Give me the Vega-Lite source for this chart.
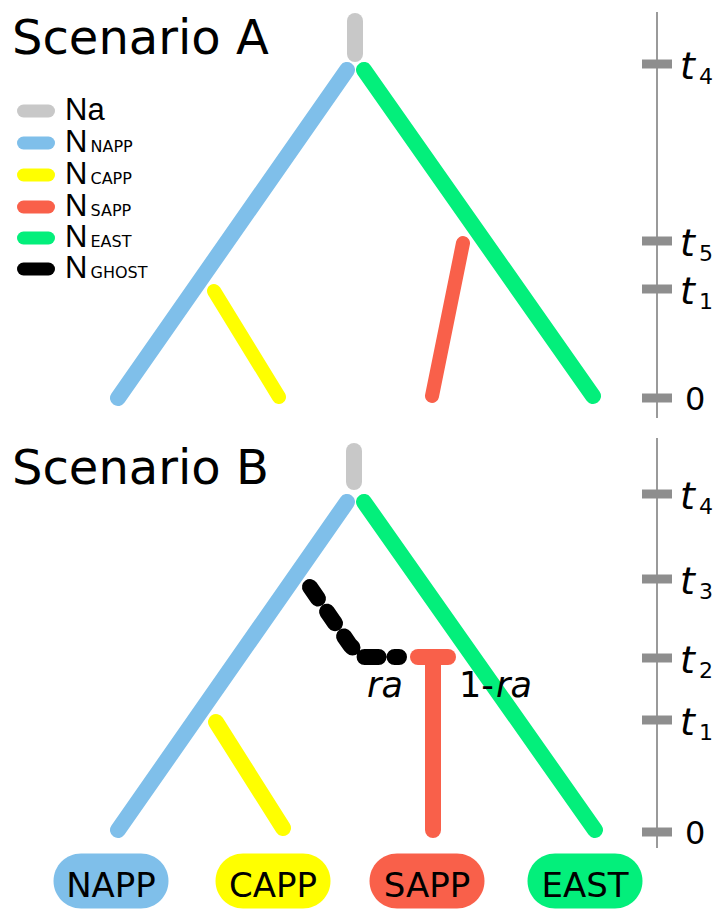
{
  "$schema": "https://vega.github.io/schema/vega-lite/v6.json",
  "width": 719,
  "height": 911,
  "padding": 0,
  "autosize": {"type": "none"},
  "background": "white",
  "config": {"view": {"stroke": null}},
  "datasets": {
    "branches": [
      {"sc": "A", "lin": "Na", "seg": "A-Na", "o": 0, "x": 355, "y": 21},
      {"sc": "A", "lin": "Na", "seg": "A-Na", "o": 1, "x": 355, "y": 54},
      {"sc": "A", "lin": "NAPP", "seg": "A-NAPP", "o": 0, "x": 347, "y": 70},
      {"sc": "A", "lin": "NAPP", "seg": "A-NAPP", "o": 1, "x": 118, "y": 398},
      {"sc": "A", "lin": "EAST", "seg": "A-EAST", "o": 0, "x": 364, "y": 70},
      {"sc": "A", "lin": "EAST", "seg": "A-EAST", "o": 1, "x": 593, "y": 396},
      {"sc": "A", "lin": "CAPP", "seg": "A-CAPP", "o": 0, "x": 214, "y": 291},
      {"sc": "A", "lin": "CAPP", "seg": "A-CAPP", "o": 1, "x": 279, "y": 397},
      {"sc": "A", "lin": "SAPP", "seg": "A-SAPP", "o": 0, "x": 463, "y": 243},
      {"sc": "A", "lin": "SAPP", "seg": "A-SAPP", "o": 1, "x": 432, "y": 396},
      {"sc": "B", "lin": "Na", "seg": "B-Na", "o": 0, "x": 354, "y": 451},
      {"sc": "B", "lin": "Na", "seg": "B-Na", "o": 1, "x": 354, "y": 482},
      {"sc": "B", "lin": "NAPP", "seg": "B-NAPP", "o": 0, "x": 347, "y": 502},
      {"sc": "B", "lin": "NAPP", "seg": "B-NAPP", "o": 1, "x": 118, "y": 830},
      {"sc": "B", "lin": "EAST", "seg": "B-EAST", "o": 0, "x": 364, "y": 502},
      {"sc": "B", "lin": "EAST", "seg": "B-EAST", "o": 1, "x": 595, "y": 830},
      {"sc": "B", "lin": "CAPP", "seg": "B-CAPP", "o": 0, "x": 216, "y": 722},
      {"sc": "B", "lin": "CAPP", "seg": "B-CAPP", "o": 1, "x": 283, "y": 828},
      {"sc": "B", "lin": "SAPP", "seg": "B-SAPP-h", "o": 0, "x": 418, "y": 657},
      {"sc": "B", "lin": "SAPP", "seg": "B-SAPP-h", "o": 1, "x": 448, "y": 657},
      {"sc": "B", "lin": "SAPP", "seg": "B-SAPP-v", "o": 0, "x": 433, "y": 657},
      {"sc": "B", "lin": "SAPP", "seg": "B-SAPP-v", "o": 1, "x": 433, "y": 830},
      {"sc": "B", "lin": "GHOST", "seg": "B-GHOST", "o": 0, "x": 310, "y": 587},
      {"sc": "B", "lin": "GHOST", "seg": "B-GHOST", "o": 1, "x": 350, "y": 645},
      {"sc": "B", "lin": "GHOST", "seg": "B-GHOST", "o": 2, "x": 362, "y": 657},
      {"sc": "B", "lin": "GHOST", "seg": "B-GHOST", "o": 3, "x": 399, "y": 657}
    ],
    "axes": [
      {"sc": "A", "top": 12, "bottom": 418},
      {"sc": "B", "top": 438, "bottom": 848}
    ],
    "ticks": [
      {"sc": "A", "y": 64, "lab": "t", "sub": "4"},
      {"sc": "A", "y": 241, "lab": "t", "sub": "5"},
      {"sc": "A", "y": 289, "lab": "t", "sub": "1"},
      {"sc": "A", "y": 398, "lab": "0", "sub": ""},
      {"sc": "B", "y": 494, "lab": "t", "sub": "4"},
      {"sc": "B", "y": 579, "lab": "t", "sub": "3"},
      {"sc": "B", "y": 658, "lab": "t", "sub": "2"},
      {"sc": "B", "y": 720, "lab": "t", "sub": "1"},
      {"sc": "B", "y": 832, "lab": "0", "sub": ""}
    ],
    "legend": [
      {"lin": "Na", "main": "Na", "sub": "", "y": 111},
      {"lin": "NAPP", "main": "N", "sub": "NAPP", "y": 143},
      {"lin": "CAPP", "main": "N", "sub": "CAPP", "y": 175},
      {"lin": "SAPP", "main": "N", "sub": "SAPP", "y": 207},
      {"lin": "EAST", "main": "N", "sub": "EAST", "y": 238},
      {"lin": "GHOST", "main": "N", "sub": "GHOST", "y": 269}
    ],
    "titles": [
      {"txt": "Scenario A", "x": 12, "y": 54},
      {"txt": "Scenario B", "x": 12, "y": 484}
    ],
    "notes": [
      {"txt": "ra", "part": "symbol", "x": 367, "y": 697},
      {"txt": "1-", "part": "number", "x": 459, "y": 697},
      {"txt": "ra", "part": "symbol", "x": 496, "y": 697}
    ],
    "pops": [
      {"lin": "NAPP", "x": 111, "y": 881},
      {"lin": "CAPP", "x": 273, "y": 881},
      {"lin": "SAPP", "x": 427, "y": 881},
      {"lin": "EAST", "x": 585, "y": 881}
    ]
  },
  "layer": [
    {
      "data": {"name": "axes"},
      "mark": {"type": "rule", "color": "#9a9a9a", "strokeWidth": 2},
      "encoding": {
        "x": {"datum": 657, "type": "quantitative", "scale": {"domain": [0, 719], "nice": false, "zero": false}, "axis": null},
        "y": {"field": "top", "type": "quantitative", "scale": {"domain": [0, 911], "nice": false, "zero": false, "reverse": true}, "axis": null},
        "y2": {"field": "bottom"}
      }
    },
    {
      "data": {"name": "ticks"},
      "mark": {"type": "rule", "color": "#8e8e8e", "strokeWidth": 9},
      "encoding": {
        "x": {"datum": 642, "type": "quantitative", "scale": {"domain": [0, 719], "nice": false, "zero": false}, "axis": null},
        "x2": {"datum": 672},
        "y": {"field": "y", "type": "quantitative", "scale": {"domain": [0, 911], "nice": false, "zero": false, "reverse": true}, "axis": null}
      }
    },
    {
      "data": {"name": "branches"},
      "transform": [{"filter": "datum.lin != 'GHOST' && !(datum.sc == 'A' && (datum.lin == 'CAPP' || datum.lin == 'SAPP'))"}],
      "mark": {"type": "line", "strokeWidth": 16, "strokeCap": "round", "strokeJoin": "round"},
      "encoding": {
        "x": {"field": "x", "type": "quantitative", "scale": {"domain": [0, 719], "nice": false, "zero": false}, "axis": null},
        "y": {"field": "y", "type": "quantitative", "scale": {"domain": [0, 911], "nice": false, "zero": false, "reverse": true}, "axis": null},
        "detail": {"field": "seg"},
        "order": {"field": "o", "type": "quantitative"},
        "stroke": {"field": "lin", "type": "nominal", "legend": null, "scale": {"domain": ["Na", "NAPP", "CAPP", "SAPP", "EAST", "GHOST"], "range": ["#c8c8c8", "#7fbfea", "#ffff00", "#f9604a", "#03ef7b", "#000000"]}}
      }
    },
    {
      "data": {"name": "branches"},
      "transform": [{"filter": "datum.sc == 'A' && (datum.lin == 'CAPP' || datum.lin == 'SAPP')"}],
      "mark": {"type": "line", "strokeWidth": 14, "strokeCap": "round", "strokeJoin": "round"},
      "encoding": {
        "x": {"field": "x", "type": "quantitative", "scale": {"domain": [0, 719], "nice": false, "zero": false}, "axis": null},
        "y": {"field": "y", "type": "quantitative", "scale": {"domain": [0, 911], "nice": false, "zero": false, "reverse": true}, "axis": null},
        "detail": {"field": "seg"},
        "order": {"field": "o", "type": "quantitative"},
        "stroke": {"field": "lin", "type": "nominal", "legend": null}
      }
    },
    {
      "data": {"name": "branches"},
      "transform": [{"filter": "datum.lin == 'GHOST'"}],
      "mark": {"type": "line", "strokeWidth": 16, "strokeCap": "round", "strokeJoin": "round", "strokeDash": [14, 16]},
      "encoding": {
        "x": {"field": "x", "type": "quantitative", "scale": {"domain": [0, 719], "nice": false, "zero": false}, "axis": null},
        "y": {"field": "y", "type": "quantitative", "scale": {"domain": [0, 911], "nice": false, "zero": false, "reverse": true}, "axis": null},
        "detail": {"field": "seg"},
        "order": {"field": "o", "type": "quantitative"},
        "stroke": {"field": "lin", "type": "nominal", "legend": null}
      }
    },
    {
      "data": {"name": "legend"},
      "mark": {"type": "rule", "strokeWidth": 13, "strokeCap": "round"},
      "encoding": {
        "x": {"datum": 23.5, "type": "quantitative", "scale": {"domain": [0, 719], "nice": false, "zero": false}, "axis": null},
        "x2": {"datum": 48.5},
        "y": {"field": "y", "type": "quantitative", "scale": {"domain": [0, 911], "nice": false, "zero": false, "reverse": true}, "axis": null},
        "stroke": {"field": "lin", "type": "nominal", "legend": null}
      }
    },
    {
      "data": {"name": "legend"},
      "mark": {"type": "text", "align": "left", "baseline": "alphabetic", "dy": 8.5, "font": "Liberation Sans", "fontSize": 31, "color": "#000000"},
      "encoding": {
        "x": {"datum": 65, "type": "quantitative", "scale": {"domain": [0, 719], "nice": false, "zero": false}, "axis": null},
        "y": {"field": "y", "type": "quantitative", "scale": {"domain": [0, 911], "nice": false, "zero": false, "reverse": true}, "axis": null},
        "text": {"field": "main"}
      }
    },
    {
      "data": {"name": "legend"},
      "mark": {"type": "text", "align": "left", "baseline": "alphabetic", "dy": 8.5, "font": "DejaVu Sans", "fontSize": 16, "color": "#000000"},
      "encoding": {
        "x": {"datum": 90.5, "type": "quantitative", "scale": {"domain": [0, 719], "nice": false, "zero": false}, "axis": null},
        "y": {"field": "y", "type": "quantitative", "scale": {"domain": [0, 911], "nice": false, "zero": false, "reverse": true}, "axis": null},
        "text": {"field": "sub"}
      }
    },
    {
      "data": {"name": "titles"},
      "mark": {"type": "text", "align": "left", "baseline": "alphabetic", "font": "DejaVu Sans", "fontSize": 48, "color": "#000000"},
      "encoding": {
        "x": {"field": "x", "type": "quantitative", "scale": {"domain": [0, 719], "nice": false, "zero": false}, "axis": null},
        "y": {"field": "y", "type": "quantitative", "scale": {"domain": [0, 911], "nice": false, "zero": false, "reverse": true}, "axis": null},
        "text": {"field": "txt"}
      }
    },
    {
      "data": {"name": "ticks"},
      "transform": [{"filter": "datum.lab == 't'"}],
      "mark": {"type": "text", "align": "left", "baseline": "alphabetic", "dy": 15, "font": "DejaVu Sans", "fontStyle": "italic", "fontSize": 38, "color": "#000000"},
      "encoding": {
        "x": {"datum": 680, "type": "quantitative", "scale": {"domain": [0, 719], "nice": false, "zero": false}, "axis": null},
        "y": {"field": "y", "type": "quantitative", "scale": {"domain": [0, 911], "nice": false, "zero": false, "reverse": true}, "axis": null},
        "text": {"field": "lab"}
      }
    },
    {
      "data": {"name": "ticks"},
      "transform": [{"filter": "datum.lab == 't'"}],
      "mark": {"type": "text", "align": "left", "baseline": "alphabetic", "dy": 20, "font": "DejaVu Sans", "fontSize": 22, "color": "#000000"},
      "encoding": {
        "x": {"datum": 699, "type": "quantitative", "scale": {"domain": [0, 719], "nice": false, "zero": false}, "axis": null},
        "y": {"field": "y", "type": "quantitative", "scale": {"domain": [0, 911], "nice": false, "zero": false, "reverse": true}, "axis": null},
        "text": {"field": "sub"}
      }
    },
    {
      "data": {"name": "ticks"},
      "transform": [{"filter": "datum.lab == '0'"}],
      "mark": {"type": "text", "align": "left", "baseline": "alphabetic", "dy": 12, "font": "DejaVu Sans", "fontSize": 32, "color": "#000000"},
      "encoding": {
        "x": {"datum": 685, "type": "quantitative", "scale": {"domain": [0, 719], "nice": false, "zero": false}, "axis": null},
        "y": {"field": "y", "type": "quantitative", "scale": {"domain": [0, 911], "nice": false, "zero": false, "reverse": true}, "axis": null},
        "text": {"field": "lab"}
      }
    },
    {
      "data": {"name": "notes"},
      "transform": [{"filter": "datum.part == 'symbol'"}],
      "mark": {"type": "text", "align": "left", "baseline": "alphabetic", "font": "DejaVu Sans", "fontStyle": "italic", "fontSize": 35, "color": "#000000"},
      "encoding": {
        "x": {"field": "x", "type": "quantitative", "scale": {"domain": [0, 719], "nice": false, "zero": false}, "axis": null},
        "y": {"field": "y", "type": "quantitative", "scale": {"domain": [0, 911], "nice": false, "zero": false, "reverse": true}, "axis": null},
        "text": {"field": "txt"}
      }
    },
    {
      "data": {"name": "notes"},
      "transform": [{"filter": "datum.part == 'number'"}],
      "mark": {"type": "text", "align": "left", "baseline": "alphabetic", "font": "DejaVu Sans", "fontSize": 35, "color": "#000000"},
      "encoding": {
        "x": {"field": "x", "type": "quantitative", "scale": {"domain": [0, 719], "nice": false, "zero": false}, "axis": null},
        "y": {"field": "y", "type": "quantitative", "scale": {"domain": [0, 911], "nice": false, "zero": false, "reverse": true}, "axis": null},
        "text": {"field": "txt"}
      }
    },
    {
      "data": {"name": "pops"},
      "mark": {"type": "point", "filled": true, "opacity": 1, "strokeWidth": 0, "size": 13225, "shape": "M -0.522,-0.478 L 0.522,-0.478 A 0.478,0.478 0 0 1 0.522,0.478 L -0.522,0.478 A 0.478,0.478 0 0 1 -0.522,-0.478 Z"},
      "encoding": {
        "x": {"field": "x", "type": "quantitative", "scale": {"domain": [0, 719], "nice": false, "zero": false}, "axis": null},
        "y": {"field": "y", "type": "quantitative", "scale": {"domain": [0, 911], "nice": false, "zero": false, "reverse": true}, "axis": null},
        "color": {"field": "lin", "type": "nominal", "legend": null, "scale": {"domain": ["Na", "NAPP", "CAPP", "SAPP", "EAST", "GHOST"], "range": ["#c8c8c8", "#7fbfea", "#ffff00", "#f9604a", "#03ef7b", "#000000"]}}
      }
    },
    {
      "data": {"name": "pops"},
      "mark": {"type": "text", "align": "center", "baseline": "alphabetic", "dy": 16, "font": "DejaVu Sans", "fontSize": 34, "color": "#000000"},
      "encoding": {
        "x": {"field": "x", "type": "quantitative", "scale": {"domain": [0, 719], "nice": false, "zero": false}, "axis": null},
        "y": {"field": "y", "type": "quantitative", "scale": {"domain": [0, 911], "nice": false, "zero": false, "reverse": true}, "axis": null},
        "text": {"field": "lin"}
      }
    }
  ]
}
